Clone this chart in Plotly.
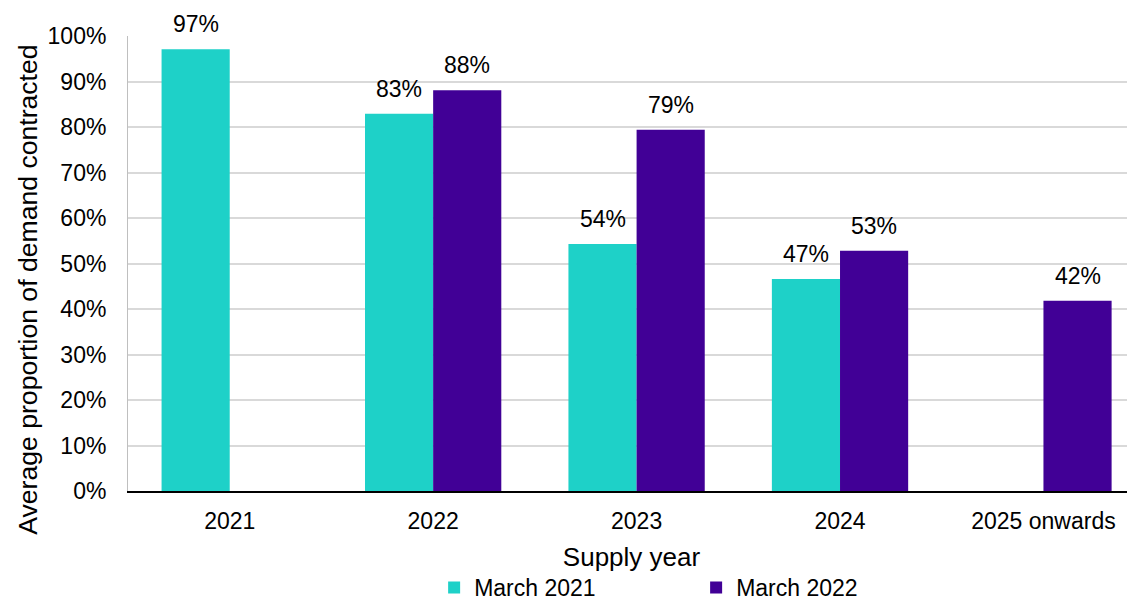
import plotly.graph_objects as go

categories = ["2021", "2022", "2023", "2024", "2025 onwards"]
march_2021 = [97.1, 82.9, 54.3, 46.6, None]
march_2022 = [None, 88.1, 79.4, 52.8, 41.8]
y_ticks = [0, 10, 20, 30, 40, 50, 60, 70, 80, 90, 100]
y_tick_labels = [f"{v}%" for v in y_ticks]

FONT = "Liberation Sans, Arial, sans-serif"
TEAL = "#1ED1C8"
PURPLE = "#410096"
BARGAP = 0.33

fig = go.Figure()
fig.add_trace(go.Bar(name="March 2021", x=categories, y=march_2021, marker_color=TEAL,
                     marker_line_width=0))
fig.add_trace(go.Bar(name="March 2022", x=categories, y=march_2022, marker_color=PURPLE,
                     marker_line_width=0))

# data labels placed above each bar
half = (1 - BARGAP) / 4
for series, off in ((march_2021, -half), (march_2022, half)):
    for i, v in enumerate(series):
        if v is None:
            continue
        fig.add_annotation(x=i + off, y=v, xref="x", yref="y", text=f"{v:.0f}%",
                           showarrow=False, yanchor="bottom", yshift=10,
                           font=dict(size=23, family=FONT, color="#000000"))

fig.add_annotation(x=-0.099, y=0.443, xref="paper", yref="paper", xanchor="center",
                   yanchor="middle", textangle=-90, showarrow=False,
                   text="Average proportion of demand contracted",
                   font=dict(size=26.6, family=FONT, color="#000000"))

# the page body adds an 8px margin, so the figure is 8px smaller and margins shifted
fig.update_layout(
    width=1127, height=593,
    margin=dict(l=120, r=0, t=28, b=110, autoexpand=False),
    paper_bgcolor="white", plot_bgcolor="white",
    barmode="group", bargap=BARGAP, bargroupgap=0,
    font=dict(family=FONT, size=23, color="#000000"),
    showlegend=True,
    legend=dict(
        orientation="h", x=0.304, xanchor="left", y=-0.212, yanchor="middle",
        font=dict(size=23, family=FONT, color="#000000"),
        entrywidth=217, entrywidthmode="pixels", traceorder="normal",
        borderwidth=0, bgcolor="rgba(0,0,0,0)",
    ),
    xaxis=dict(
        range=[-0.5, 4.45], showline=True, linecolor="#000000", linewidth=1.5,
        ticks="", tickfont=dict(size=23), showgrid=False, automargin=False,
        ticklabelstandoff=9,
        title=dict(text="Supply year", font=dict(size=26), standoff=14),
    ),
    yaxis=dict(
        range=[0, 100], tickvals=y_ticks, ticktext=y_tick_labels,
        showgrid=True, gridcolor="#D9D9D9", gridwidth=1.5,
        showline=True, linecolor="#BFBFBF", linewidth=1,
        ticks="", tickfont=dict(size=23), zeroline=False, automargin=False,
        ticklabelstandoff=16,
    ),
)

fig.write_html("out.html")
